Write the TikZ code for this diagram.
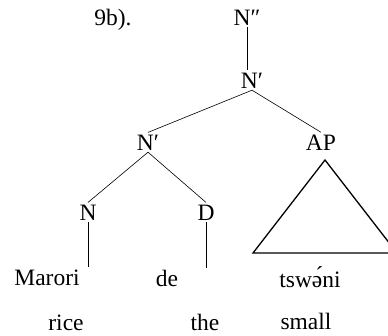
\documentclass[tikz,border=0pt]{standalone}
\usepackage{fontspec}
\setmainfont{Liberation Serif}
\usepackage{tikz}
\usetikzlibrary{positioning}

\begin{document}
\begin{tikzpicture}[
    x=1pt, y=-1pt,
    cat/.style={anchor=base, inner sep=2pt, font=\fontsize{23.5}{27}\selectfont},
    word/.style={anchor=base, inner sep=2pt, font=\fontsize{23.5}{27}\selectfont},
    branch/.style={line width=0.6pt},
    tri/.style={line width=1.3pt, line join=miter}
  ]
    \clip (0,0) rectangle (388,335);

    % Etiqueta
    \node[word] (lbl) at (113,25) {9b).};

    % Categorías
    \node[cat] (nbb) at (247,25) {N″};
    \node[cat] (nbar) at (252,88) {N′};
    \node[cat] (nbarl) at (148,150) {N′};
    \node[cat] (ap) at (321,150) {AP};
    \node[cat] (n) at (88,220) {N};
    \node[cat] (d) at (206,220) {D};

    % Palabras y glosas
    \node[word] (marori) at (47,285) {Marori};
    \node[word] (de) at (167,286) {de};
    \node[word] (tswoni) at (310,287) {tswə́ni};
    \node[word] (rice) at (66,330) {rice};
    \node[word] (the) at (205,330) {the};
    \node[word] (small) at (306,329) {small};

    % Triángulo del AP
    \coordinate (apex) at (325,160);
    \coordinate (tl) at (253,253);
    \coordinate (tr) at (397,253);

    % Ramas
    \draw[branch] (nbb.south) -- (nbb.south |- nbar.north);
    \draw[branch] (nbar.south) -- (nbarl.north);
    \draw[branch] (nbar.south) -- (ap.north);
    \draw[branch] (nbarl.south) -- (n.north);
    \draw[branch] (nbarl.south) -- (d.north);
    \draw[branch] (n.south) -- (n.south |- marori.north);
    \draw[branch] (d.south) -- (d.south |- de.north);
    \draw[tri] (apex) -- (tl) -- (tr) -- cycle;
  \end{tikzpicture}
\end{document}
